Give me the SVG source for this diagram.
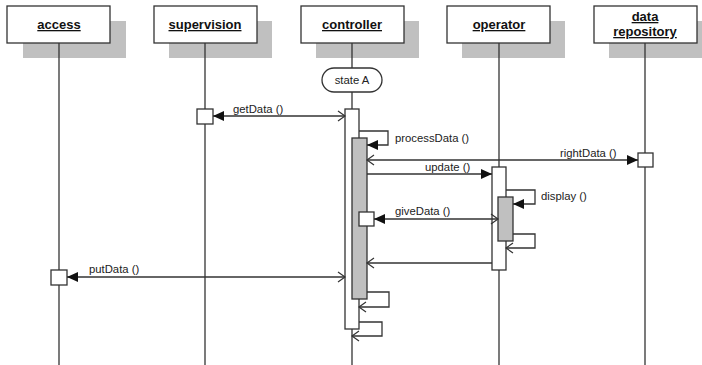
<svg xmlns="http://www.w3.org/2000/svg" width="702" height="365" viewBox="0 0 702 365">
<style>
.shadow{fill:#c0c0c0;stroke:none}
.head{fill:#fff;stroke:#333;stroke-width:1.3}
.htxt{font-family:"Liberation Sans",Arial,sans-serif;font-size:13px;font-weight:bold;text-decoration:underline;fill:#111;text-anchor:middle}
.life{stroke:#333;stroke-width:1.3;fill:none}
.act{fill:#fff;stroke:#333;stroke-width:1.3}
.act2{fill:#c0c0c0;stroke:#333;stroke-width:1.3}
.lbl{font-family:"Liberation Sans",Arial,sans-serif;font-size:11.3px;fill:#222}
.msg{stroke:#333;stroke-width:1.3;fill:none}
.sbox{fill:#fff;stroke:#333;stroke-width:1.3}
</style>
<defs>
<marker id="fill" markerUnits="userSpaceOnUse" markerWidth="12" markerHeight="10" refX="11" refY="5" orient="auto-start-reverse">
<path d="M0,0 L11,5 L0,10 Z" fill="#111"/>
</marker>
<marker id="open" markerUnits="userSpaceOnUse" markerWidth="10" markerHeight="12" refX="8" refY="6" orient="auto-start-reverse">
<path d="M1,1 L8,6 L1,11" fill="none" stroke="#333" stroke-width="1.2"/>
</marker>
</defs>
<rect width="702" height="365" fill="#fff"/>

<g id="access">
<rect class="shadow" x="23" y="21" width="103" height="37"/>
<rect class="head" x="7" y="6" width="103" height="37"/>
<text class="htxt" x="59" y="29">access</text>
<line class="life" x1="59" y1="43" x2="59" y2="365"/>
</g>
<g id="supervision">
<rect class="shadow" x="169" y="21" width="103" height="37"/>
<rect class="head" x="154" y="6" width="103" height="37"/>
<text class="htxt" x="205" y="29">supervision</text>
<line class="life" x1="205" y1="43" x2="205" y2="365"/>
</g>
<g id="controller">
<rect class="shadow" x="316" y="21" width="103" height="37"/>
<rect class="head" x="301" y="6" width="103" height="37"/>
<text class="htxt" x="352" y="29">controller</text>
<line class="life" x1="352" y1="43" x2="352" y2="365"/>
</g>
<g id="operator">
<rect class="shadow" x="462" y="21" width="103" height="37"/>
<rect class="head" x="447" y="6" width="103" height="37"/>
<text class="htxt" x="499" y="29">operator</text>
<line class="life" x1="499" y1="43" x2="499" y2="365"/>
</g>
<g id="data-repository">
<rect class="shadow" x="609" y="21" width="103" height="37"/>
<rect class="head" x="594" y="6" width="103" height="37"/>
<text class="htxt" x="645" y="21">data</text>
<text class="htxt" x="645" y="36">repository</text>
<line class="life" x1="645" y1="43" x2="645" y2="365"/>
</g>

<g id="stateA">
<rect x="322" y="68" width="60" height="24" rx="12" ry="12" fill="#fff" stroke="#333" stroke-width="1.3"/>
<text class="lbl" x="352" y="84" text-anchor="middle">state A</text>
</g>

<g id="activations">
<rect class="act" x="345" y="109" width="14" height="220"/>
<rect class="act2" x="352" y="138" width="15" height="161"/>
<rect class="act" x="492" y="167" width="14" height="103"/>
<rect class="act2" x="498" y="197" width="15" height="44"/>
<rect class="sbox" x="197" y="109" width="16" height="15"/>
<rect class="sbox" x="638" y="153" width="15" height="14"/>
<rect class="sbox" x="359" y="212" width="15" height="14"/>
<rect class="sbox" x="51" y="270" width="16" height="15"/>
</g>

<g id="connectors">
<line class="msg" x1="213" y1="116" x2="345" y2="116" marker-start="url(#fill)" marker-end="url(#open)"/>
<path class="msg" d="M359,131 H388 V145 H367" marker-end="url(#fill)"/>
<line class="msg" x1="367" y1="160" x2="638" y2="160" marker-start="url(#open)" marker-end="url(#fill)"/>
<line class="msg" x1="367" y1="174" x2="492" y2="174" marker-end="url(#fill)"/>
<path class="msg" d="M506,190 H535 V204 H513" marker-end="url(#fill)"/>
<line class="msg" x1="374" y1="219" x2="498" y2="219" marker-start="url(#fill)" marker-end="url(#open)"/>
<path class="msg" d="M513,234 H535 V248 H506" marker-end="url(#open)"/>
<line class="msg" x1="492" y1="263" x2="367" y2="263" marker-end="url(#open)"/>
<line class="msg" x1="67" y1="277" x2="345" y2="277" marker-start="url(#fill)" marker-end="url(#open)"/>
<path class="msg" d="M367,292 H389 V307 H359" marker-end="url(#open)"/>
<path class="msg" d="M359,322 H382 V336 H352" marker-end="url(#open)"/>
</g>

<g id="labels">
<text class="lbl" x="233" y="113">getData ()</text>
<text class="lbl" x="395" y="142">processData ()</text>
<text class="lbl" x="560" y="157">rightData ()</text>
<text class="lbl" x="425" y="171">update ()</text>
<text class="lbl" x="541" y="200">display ()</text>
<text class="lbl" x="395" y="215">giveData ()</text>
<text class="lbl" x="89" y="273">putData ()</text>
</g>
</svg>
